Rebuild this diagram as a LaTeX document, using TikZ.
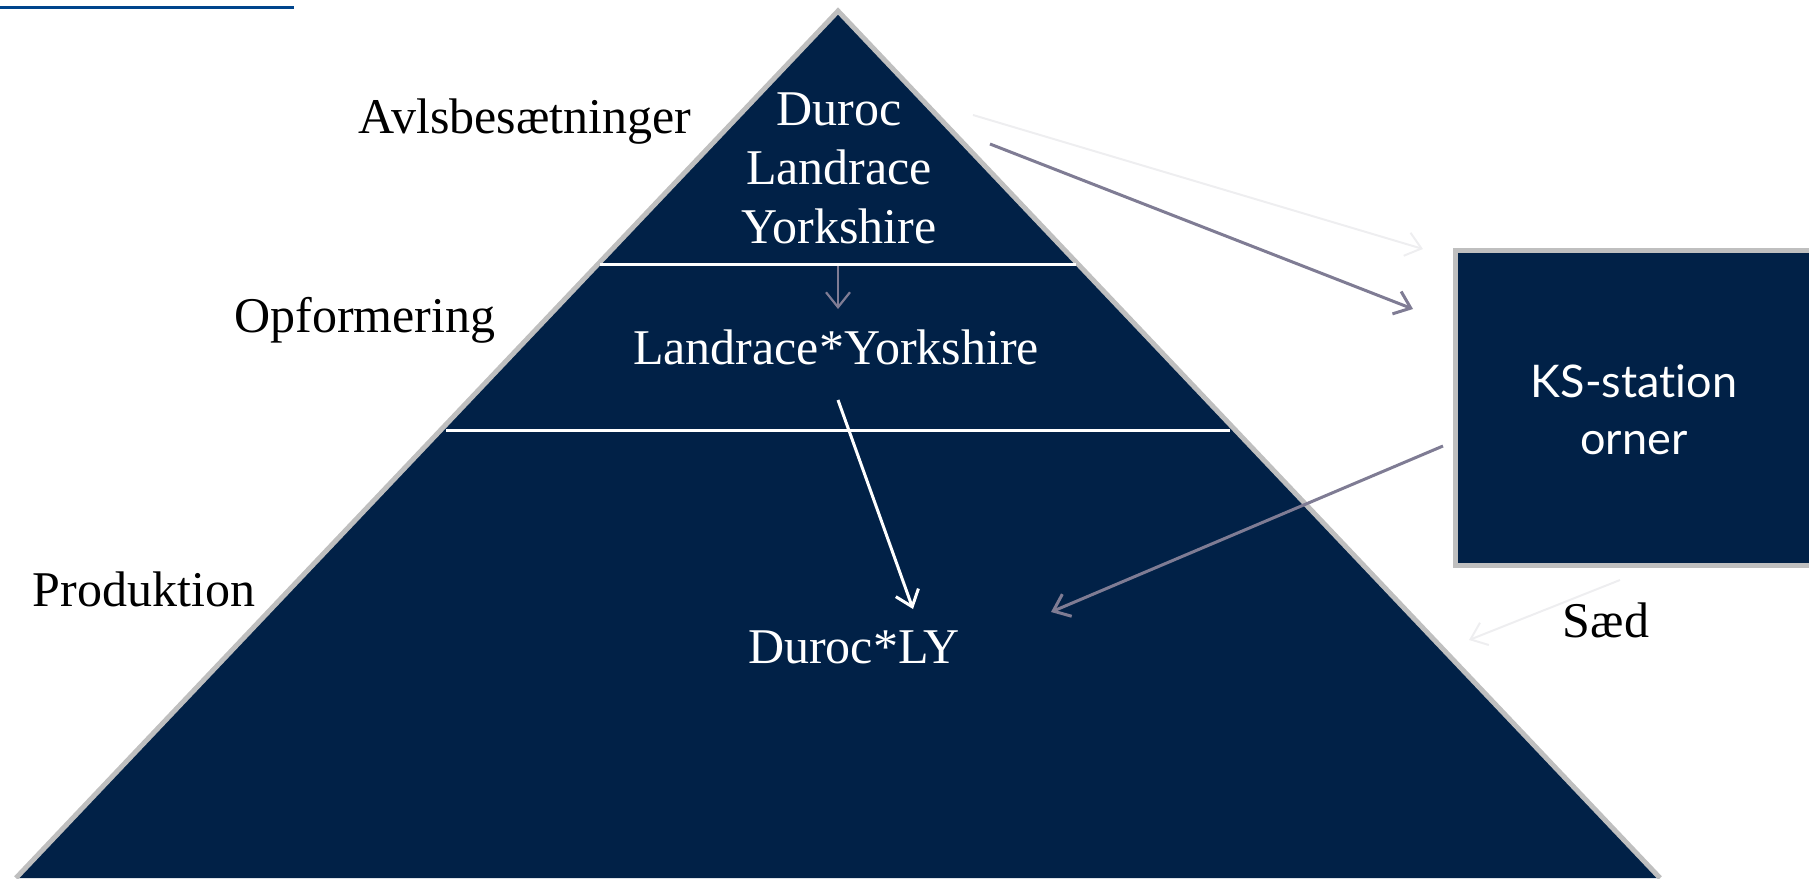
\documentclass[tikz,border=0pt]{standalone}
\usepackage{fontspec}
\setmainfont{Liberation Serif}
\newfontfamily\ksfont[Ligatures={NoCommon,NoRare}]{Lato}
\usetikzlibrary{arrows.meta}
\definecolor{navy}{RGB}{1,33,71}
\definecolor{rim}{RGB}{191,191,191}
\definecolor{flow}{RGB}{127,124,148}
\definecolor{ghost}{RGB}{238,238,240}
\definecolor{topline}{RGB}{0,69,140}
\tikzstyle{big}=[font=\fontsize{50}{59}\selectfont, align=center, inner sep=0pt]
\tikzstyle{onblue}=[big, text=white]
\tikzstyle{barb}=[-{Straight Barb[length=15pt,width=24pt]}]

\begin{document}
\begin{tikzpicture}[x=1pt, y=-1pt]
		\useasboundingbox (0,0) rectangle (1809,878);
		\draw[topline, line width=3pt] (0,7) -- (294,7);
		
		% pyramid
		\fill[navy] (16,878) -- (838,11) -- (1660,878) -- cycle;
		\draw[rim, line width=5pt, line join=miter] (16,878) -- (838,11) -- (1660,878);
		\draw[white, line width=3pt] (600,264) -- (1076,264);
		\draw[white, line width=3pt] (446,430) -- (1230,430);
		
		% KS box
		\draw[rim, line width=5pt, fill=navy] (1455,250) rectangle (1830,565);
		
		\node(breed) [onblue] at (839,168) {Duroc\\Landrace\\Yorkshire};
		\node(cross) [onblue] at (836,347) {Landrace*Yorkshire};
		\node(prod) [onblue] at (854,647) {Duroc*LY};
		\node(ks) [text=white, align=center, inner sep=0pt, font=\ksfont\fontsize{45}{57}\selectfont] at (1634,410) {KS-station\\orner};
		
		\node(avl) [big] at (525,122) {Avlsbesætninger};
		\node(opf) [big] at (365,320) {Opformering};
		\node(pro) [big] at (144,589) {Produktion};
		\node(saed) [big] at (1606,620) {Sæd};
		
		\coordinate (g1) at (973,115); \coordinate (g2) at (1423,249);
		\coordinate (f1) at (990,144); \coordinate (f2) at (1413,309);
		\coordinate (k1) at (1443,446); \coordinate (k2) at (1051,612);
		\coordinate (s1) at (1620,580); \coordinate (s2) at (1469,640);
		\coordinate (d1) at (838,266); \coordinate (d2) at (838,309);
		\coordinate (w1) at (838,400); \coordinate (w2) at (913,609);
		
		\draw[barb, ghost, line width=2pt] (g1) -- (g2);
		\draw[barb, flow, line width=3pt] (f1) -- (f2);
		\draw[barb, flow, line width=3pt] (k1) -- (k2);
		\draw[barb, ghost, line width=2pt] (s1) -- (s2);
		\draw[barb, flow, line width=2.2pt] (d1) -- (d2);
		\draw[barb, white, line width=3pt] (w1) -- (w2);
		
\end{tikzpicture}
\end{document}
